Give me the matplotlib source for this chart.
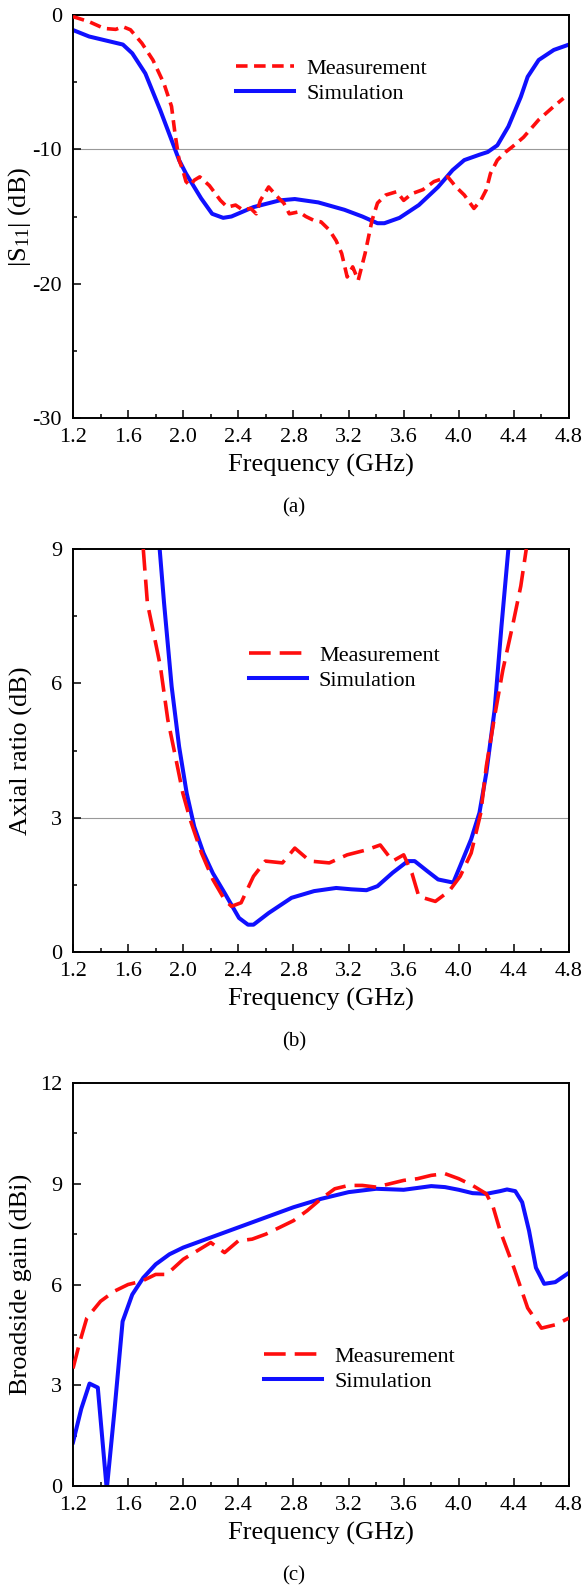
import matplotlib
matplotlib.use("Agg")
import matplotlib.pyplot as plt
from matplotlib.ticker import MultipleLocator

plt.rcParams['font.family'] = ['Liberation Serif', 'DejaVu Serif']
plt.rcParams['mathtext.fontset'] = 'custom'
plt.rcParams['mathtext.rm'] = 'Liberation Serif'
plt.rcParams['mathtext.it'] = 'Liberation Serif:italic'
plt.rcParams['axes.unicode_minus'] = False

# ---------------- data: (a) |S11| ----------------
s11_sim_f = [1.2, 1.317, 1.562, 1.63, 1.725, 1.834, 1.915, 1.97, 2.02, 2.13, 2.21, 2.29, 2.35,
             2.51, 2.70, 2.81, 2.98, 3.17, 3.30, 3.41, 3.46, 3.57, 3.71, 3.85, 3.955, 4.04,
             4.15, 4.21, 4.28, 4.36, 4.45, 4.5, 4.58, 4.69, 4.8]
s11_sim_v = [-1.12, -1.6, -2.2, -2.85, -4.35, -7.1, -9.3, -10.8, -11.8, -13.65, -14.8, -15.1, -15.0,
             -14.3, -13.8, -13.7, -13.95, -14.5, -15.0, -15.5, -15.5, -15.1, -14.15, -12.8, -11.55, -10.8,
             -10.4, -10.2, -9.7, -8.3, -6.1, -4.6, -3.35, -2.6, -2.2]
s11_mea_f = [1.2, 1.317, 1.426, 1.51, 1.562, 1.617, 1.70, 1.78, 1.86, 1.915, 1.94, 1.97, 1.997,
             2.02, 2.05, 2.08, 2.12, 2.19, 2.27, 2.32, 2.38, 2.43, 2.49, 2.53, 2.56, 2.62, 2.68,
             2.73, 2.77, 2.84, 2.89, 2.95, 3.00, 3.06, 3.11, 3.15, 3.19, 3.23, 3.27, 3.32, 3.37,
             3.41, 3.47, 3.55, 3.60, 3.66, 3.74, 3.82, 3.92, 3.98, 4.04, 4.11, 4.16, 4.2, 4.23,
             4.28, 4.34, 4.39, 4.47, 4.58, 4.69, 4.76]
s11_mea_v = [-0.12, -0.5, -1.0, -1.07, -0.87, -1.1, -2.1, -3.35, -5.1, -6.8, -8.8, -10.8, -11.55,
             -12.4, -12.7, -12.3, -12.05, -12.7, -13.8, -14.3, -14.15, -14.5, -14.4, -14.8, -13.8, -12.8, -13.5,
             -14.0, -14.8, -14.65, -15.0, -15.3, -15.4, -16.0, -16.8, -17.75, -19.5, -18.75, -19.75, -17.75, -15.3,
             -14.0, -13.4, -13.15, -13.8, -13.3, -13.0, -12.4, -12.05, -12.8, -13.4, -14.4, -13.8, -13.0, -11.8,
             -10.8, -10.2, -9.8, -9.1, -7.8, -6.8, -6.2]

# ---------------- data: (b) axial ratio ----------------
ar_sim_f = [1.829, 1.861, 1.916, 1.97, 2.025, 2.08, 2.147, 2.215, 2.30, 2.405, 2.47, 2.51, 2.62,
            2.786, 2.95, 3.11, 3.22, 3.33, 3.41, 3.52, 3.63, 3.68, 3.77, 3.85, 3.96, 4.01,
            4.09, 4.15, 4.20, 4.26, 4.31, 4.36]
ar_sim_v = [9.0, 7.79, 5.93, 4.59, 3.55, 2.80, 2.21, 1.76, 1.32, 0.76, 0.61, 0.61, 0.87,
            1.21, 1.36, 1.43, 1.40, 1.38, 1.47, 1.77, 2.03, 2.03, 1.81, 1.62, 1.55, 1.92,
            2.52, 3.11, 4.0, 5.41, 7.28, 9.0]
ar_mea_f = [1.71, 1.74, 1.78, 1.834, 1.888, 1.943, 1.997, 2.05, 2.133, 2.215, 2.30, 2.35, 2.42,
            2.51, 2.596, 2.72, 2.81, 2.92, 3.06, 3.19, 3.33, 3.43, 3.52, 3.60, 3.66, 3.71,
            3.83, 3.93, 4.01, 4.09, 4.16, 4.20, 4.26, 4.32, 4.39, 4.45, 4.49]
ar_mea_v = [9.0, 7.79, 7.2, 6.38, 5.19, 4.37, 3.55, 2.96, 2.21, 1.62, 1.17, 1.02, 1.10,
            1.69, 2.03, 1.99, 2.32, 2.03, 1.99, 2.17, 2.28, 2.39, 2.03, 2.17, 1.76, 1.24,
            1.13, 1.36, 1.69, 2.21, 3.11, 4.15, 5.26, 6.3, 7.28, 8.17, 9.0]

# ---------------- data: (c) broadside gain ----------------
g_sim_f = [1.2, 1.26, 1.32, 1.38, 1.445, 1.5, 1.56, 1.63, 1.71, 1.8, 1.9, 2.0, 2.2, 2.4, 2.6,
           2.8, 3.0, 3.2, 3.4, 3.6, 3.8, 3.9, 4.0, 4.1, 4.2, 4.3, 4.35, 4.41, 4.46, 4.51,
           4.56, 4.62, 4.7, 4.8]
g_sim_v = [1.3, 2.3, 3.05, 2.93, -0.1, 2.2, 4.9, 5.7, 6.2, 6.6, 6.9, 7.1, 7.4, 7.7, 8.0,
           8.3, 8.55, 8.75, 8.85, 8.82, 8.93, 8.9, 8.82, 8.72, 8.7, 8.78, 8.83, 8.78, 8.45, 7.6,
           6.5, 6.02, 6.07, 6.35]
g_mea_f = [1.2, 1.25, 1.3, 1.4, 1.5, 1.6, 1.7, 1.8, 1.88, 2.0, 2.1, 2.2, 2.3, 2.4, 2.5, 2.6,
           2.8, 2.9, 3.0, 3.1, 3.2, 3.3, 3.4, 3.6, 3.7, 3.8, 3.9, 4.0, 4.1, 4.2, 4.25, 4.3,
           4.4, 4.5, 4.6, 4.7, 4.8]
g_mea_v = [3.5, 4.3, 5.0, 5.5, 5.8, 6.0, 6.1, 6.3, 6.3, 6.75, 7.0, 7.25, 6.95, 7.3, 7.35, 7.5,
           7.9, 8.2, 8.55, 8.85, 8.95, 8.95, 8.9, 9.1, 9.15, 9.25, 9.3, 9.15, 8.95, 8.7, 8.3, 7.6,
           6.5, 5.3, 4.7, 4.8, 5.0]

freq_ticks = [1.2, 1.6, 2.0, 2.4, 2.8, 3.2, 3.6, 4.0, 4.4, 4.8]
legend_labels = ['Measurement', 'Simulation']

W, H = 586, 1591
fig = plt.figure(figsize=(W / 100, H / 100), dpi=100)

AX_L, AX_R = 73, 569
AX_W = AX_R - AX_L
AX_H = 403
tops = [15, 549, 1083]

RED = '#ff0d0d'
BLUE = '#1010ff'


def make_axes(top):
    bottom = top + AX_H
    ax = fig.add_axes([AX_L / W, 1 - bottom / H, AX_W / W, AX_H / H])
    for s in ax.spines.values():
        s.set_linewidth(1.4)
    ax.set_xlim(1.2, 4.8)
    ax.set_xticks(freq_ticks)
    ax.set_xticklabels(['%.1f' % t for t in freq_ticks])
    ax.xaxis.set_minor_locator(MultipleLocator(0.2))
    ax.tick_params(which='both', direction='in', top=False, right=False, labelsize=16, width=1.1)
    ax.tick_params(which='major', length=6)
    ax.tick_params(which='minor', length=3)
    ax.tick_params(axis='x', pad=7)
    ax.tick_params(axis='y', pad=8)
    ax.set_xlabel('Frequency (GHz)', fontsize=19)
    ax.xaxis.set_label_coords(0.5, -0.09)
    return ax


def add_legend(ax, top, x_px, y_px):
    ax.legend(loc='upper left',
              bbox_to_anchor=((x_px - AX_L) / AX_W, (top + AX_H - y_px) / AX_H),
              frameon=False, fontsize=16, handlelength=2.6, handletextpad=0.55,
              labelspacing=0.2, borderpad=0, borderaxespad=0)


def panel_label(text, top):
    y = top + AX_H + 90
    fig.text(294 / W, 1 - y / H, text, ha='center', va='center', fontsize=15)


# (a)
ax1 = make_axes(tops[0])
ax1.axhline(-10, color='#999999', lw=0.8, zorder=1)
ax1.plot(s11_mea_f, s11_mea_v, color=RED, lw=2.6, ls=(0, (3.2, 1.8)), label=legend_labels[0], zorder=3)
ax1.plot(s11_sim_f, s11_sim_v, color=BLUE, lw=2.9, label=legend_labels[1], zorder=2)
ax1.set_ylim(-30, 0)
ax1.set_yticks([0, -10, -20, -30])
ax1.yaxis.set_minor_locator(MultipleLocator(5))
ax1.set_ylabel(r'|S$_{\mathrm{11}}$| (dB)', fontsize=19)
ax1.yaxis.set_label_coords(-0.08, 0.5)
add_legend(ax1, tops[0], 236, 58)
panel_label('(a)', tops[0])

# (b)
ax2 = make_axes(tops[1])
ax2.axhline(3, color='#999999', lw=0.8, zorder=1)
ax2.plot(ar_mea_f, ar_mea_v, color=RED, lw=2.6, ls=(0, (6, 2.5)), label=legend_labels[0], zorder=3)
ax2.plot(ar_sim_f, ar_sim_v, color=BLUE, lw=2.9, label=legend_labels[1], zorder=2)
ax2.set_ylim(0, 9)
ax2.set_yticks([0, 3, 6, 9])
ax2.yaxis.set_minor_locator(MultipleLocator(1.5))
ax2.set_ylabel('Axial ratio (dB)', fontsize=19)
ax2.yaxis.set_label_coords(-0.08, 0.5)
add_legend(ax2, tops[1], 249, 645)
panel_label('(b)', tops[1])

# (c)
ax3 = make_axes(tops[2])
ax3.plot(g_mea_f, g_mea_v, color=RED, lw=2.6, ls=(0, (6, 2.5)), label=legend_labels[0], zorder=3)
ax3.plot(g_sim_f, g_sim_v, color=BLUE, lw=2.9, label=legend_labels[1], zorder=2)
ax3.set_ylim(0, 12)
ax3.set_yticks([0, 3, 6, 9, 12])
ax3.yaxis.set_minor_locator(MultipleLocator(1.5))
ax3.set_ylabel('Broadside gain (dBi)', fontsize=19)
ax3.yaxis.set_label_coords(-0.08, 0.5)
add_legend(ax3, tops[2], 264, 1346)
panel_label('(c)', tops[2])

fig.savefig('out.png', dpi=100)
